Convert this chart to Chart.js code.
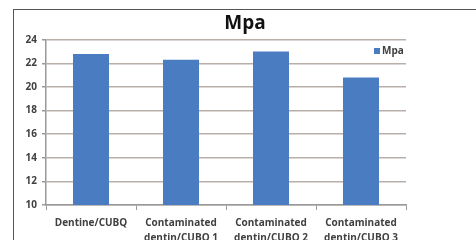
<!DOCTYPE html>
<html><head><meta charset="utf-8">
<script src="https://cdn.jsdelivr.net/npm/chart.js@4"></script>
<style>
html,body{margin:0;padding:0;background:#fff;overflow:hidden;width:476px;height:240px}
#frame{position:absolute;left:13px;top:9px;width:480px;height:250px;border-left:1.5px solid #555;border-top:1.5px solid #555;box-sizing:border-box}
#wrap{position:absolute;left:14px;top:10px;width:462px;height:240px}
</style></head>
<body>
<div id="frame"></div>
<div id="wrap"><canvas id="c"></canvas></div>
<script>
const categories = ["Dentine/CUBQ", ["Contaminated","dentin/CUBQ 1"], ["Contaminated","dentin/CUBQ 2"], ["Contaminated","dentin/CUBQ 3"]];
const seriesName = "Mpa";
const mpaValues = [22.8, 22.3, 23.0, 20.8];
const yTicks = [10, 12, 14, 16, 18, 20, 22, 24];

const barColor = '#4a7cc2';
const fontFam = '"Open Sans", "Liberation Sans", sans-serif';

const legendPlugin = {
  id: 'customLegend',
  afterDraw(chart) {
    const ctx = chart.ctx;
    const ds = chart.data.datasets[0];
    ctx.save();
    ctx.fillStyle = ds.backgroundColor;
    ctx.fillRect(360, 38, 6, 6);
    ctx.fillStyle = '#404040';
    ctx.font = 'bold 10px ' + fontFam;
    ctx.textBaseline = 'middle';
    ctx.textAlign = 'left';
    ctx.fillText(ds.label, 368, 41);
    ctx.restore();
  }
};

new Chart(document.getElementById('c'), {
  type: 'bar',
  data: {
    labels: categories,
    datasets: [{
      label: seriesName,
      data: mpaValues,
      backgroundColor: barColor,
      borderWidth: 0,
      categoryPercentage: 1,
      barPercentage: 0.4,
      yAxisID: 'y'
    }]
  },
  options: {
    responsive: true,
    maintainAspectRatio: false,
    animation: false,
    layout: { padding: 0 },
    plugins: {
      legend: { display: false },
      tooltip: { enabled: false },
      title: {
        display: true,
        text: seriesName,
        color: '#111',
        font: { family: fontFam, size: 19, weight: 'bold' },
        padding: { top: 2, bottom: 5 }
      }
    },
    scales: {
      x: {
        offset: true,
        grid: { display: true, drawOnChartArea: false, drawTicks: true, tickLength: 5, color: '#999', offset: true },
        border: { display: true, color: '#999', width: 1.5 },
        ticks: { color: '#404040', padding: 6, maxRotation: 0, autoSkip: false,
          font: { family: fontFam, size: 10, weight: 'bold', lineHeight: 1.5 } },
        afterFit(s) { s.height = 45; }
      },
      y: {
        min: 10, max: 24,
        afterBuildTicks(s) { s.ticks = yTicks.map(v => ({ value: v })); },
        grid: { color: '#b9afa9', lineWidth: 1.5, tickLength: 4, tickColor: '#999' },
        border: { display: true, color: '#999', width: 1.5 },
        ticks: { color: '#404040', padding: 5, font: { family: fontFam, size: 10, weight: 'bold' } },
        afterFit(s) { s.width = 32; }
      },
      yR: {
        position: 'right',
        display: true,
        grid: { display: false },
        border: { display: false },
        ticks: { display: false },
        afterFit(s) { s.width = 70; }
      }
    }
  },
  plugins: [legendPlugin]
});
</script>
</body></html>
